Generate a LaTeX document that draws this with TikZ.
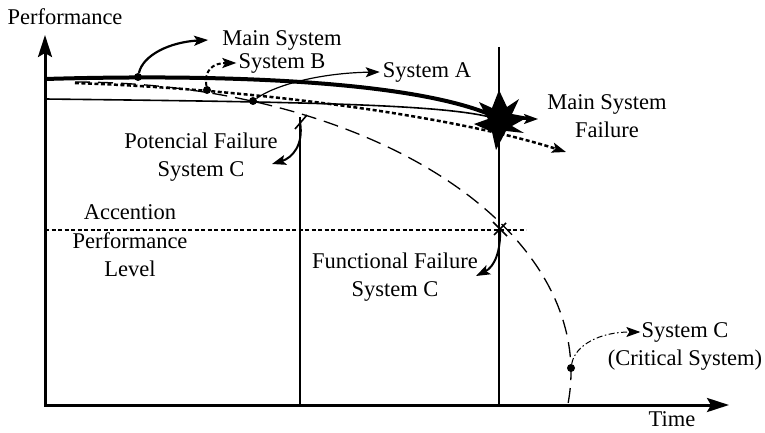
\documentclass[tikz,border=0pt]{standalone}
\usepackage{fontspec}
\setmainfont{Liberation Serif}
\usetikzlibrary{arrows.meta}
\begin{document}
\begin{tikzpicture}[x=1pt,y=-1pt,
  lbl/.style={inner sep=0pt, font=\fontsize{22.5}{28.5}\selectfont, align=center},
  dotnode/.style={circle, fill=black, inner sep=0pt, minimum size=8pt},
  axisline/.style={line width=3pt},
  callout/.style={-{Stealth[length=14pt,width=10pt,inset=3pt]}},
  dotline/.style={line width=2.5pt, dash pattern=on 4pt off 2.5pt},
  dashline/.style={line width=1.3pt, dash pattern=on 15pt off 8pt},
  dashdot/.style={line width=1pt, dash pattern=on 6pt off 2.5pt on 1.5pt off 2.5pt},
]
\useasboundingbox (0,0) rectangle (765,433);

% axes
\coordinate (O) at (45,405);
\coordinate (ytip) at (45,35);
\coordinate (xtip) at (729,405);
\draw[axisline, {Stealth[length=22pt,width=14pt,inset=4pt]}-{Stealth[length=22pt,width=14pt,inset=4pt]}] (ytip) -- (O) -- (xtip);
\node[lbl] (perf) at (65,17) {Performance};
\node[lbl] (time) at (672,419) {Time};

% vertical lines
\coordinate (pf) at (300,122);
\coordinate (pfbot) at (300,405);
\coordinate (mftop) at (499,47);
\coordinate (mfbot) at (499,405);
\draw[line width=2pt] (300,117) -- (pfbot);
\draw[line width=2pt] (mftop) -- (mfbot);

% acceptable performance level
\coordinate (accl) at (45,230);
\coordinate (accr) at (526,230);
\draw[line width=2pt, dash pattern=on 4pt off 2.5pt] (accl) -- (accr);

% System C dashed curve (ellipse quadrant)
\draw[dashline] plot[domain=-90:6.8, samples=120] ({75+496*cos(\x)},{372+290*sin(\x)});

% System A (thin solid)
\coordinate (astart) at (45,99);
\coordinate (star) at (500,120);
\draw[line width=1.6pt] (astart) .. controls (300,102) and (450,104) .. (497,119);

% System B (dotted) continuing beyond the star
\coordinate (bstart) at (75,83);
\coordinate (bend) at (566,152);
\draw[dotline, callout] (bstart) .. controls (250,89) and (450,115) .. (bend);

% Main system (thick)
\coordinate (mstart) at (45,79);
\draw[line width=4pt] (mstart) .. controls (250,73) and (430,84) .. (500,119);
\coordinate (mout) at (538,119);
\draw[line width=2pt, callout] (510,119) -- (mout);

% star (main system failure)
\fill (499,90) -- (507,107) -- (519,99) -- (512,114) -- (528,117) -- (512,126)
  -- (524,133) -- (506,131) -- (496,150) -- (492,132) -- (474,124) -- (488,119)
  -- (479,102) -- (492,108) -- cycle;

% dots
\node[dotnode] (dm) at (138,77) {};
\node[dotnode] (db) at (207,90) {};
\node[dotnode] (da) at (253,101) {};
\node[dotnode] (dc) at (571,368) {};

% labels
\node[lbl] (lmain) at (282,40) {Main System};
\node[lbl] (lb) at (282,63) {System B};
\node[lbl] (la) at (427,72) {System A};
\node[lbl] (lmf) at (607,116) {Main System\\Failure};
\node[lbl] (lpf) at (201,157) {Potencial Failure\\System C};
\node[lbl] (lacc) at (130,241) {Accention\\Performance\\Level};
\node[lbl] (lff) at (395,277) {Functional Failure\\System C};
\node[lbl] (lc) at (685,332) {System C};
\node[lbl] (lcc) at (685,360) {(Critical System)};

% callout arrows
\draw[line width=2.2pt, callout] (dm) .. controls (143,55) and (170,42) .. ([xshift=-14pt]lmain.west);
\draw[dotline, line width=2pt, callout] (db) .. controls (204,70) and (213,63) .. ([xshift=-2pt]lb.west);
\draw[line width=1.2pt, callout] (da) .. controls (275,85) and (320,73) .. ([xshift=-3pt]la.west);
\draw[dashdot, callout] (dc) .. controls (575,345) and (600,332) .. ([xshift=-1pt]lc.west);

% potential failure marker and arrow
\draw[line width=1.6pt] (295,129) -- (307,115);
\draw[line width=2pt, callout] (pf) .. controls (304,145) and (292,158) .. (272,164);

% functional failure marker and arrow
\coordinate (ff) at (500,229);
\draw[line width=1.6pt] (493,222) -- (507,236);
\draw[line width=1.6pt] (494,235) -- (506,223);
\draw[line width=2pt, callout] (ff) .. controls (501,252) and (494,267) .. (476,276);
\end{tikzpicture}
\end{document}
